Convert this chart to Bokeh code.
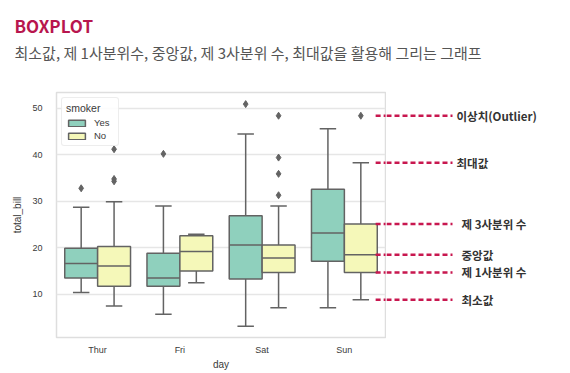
from bokeh.plotting import figure
from bokeh.layouts import column, row
from bokeh.models import FactorRange, Range1d, Label, Arrow, Legend, LegendItem, ColumnDataSource
from bokeh.transform import dodge
from bokeh.embed import file_html
from bokeh.resources import INLINE

days = ["Thur", "Fri", "Sat", "Sun"]
yes_lower = [10.4, 5.7, 3.1, 7.1]
yes_q1 = [13.5, 11.7, 13.3, 17.1]
yes_median = [16.6, 13.5, 20.6, 23.2]
yes_q3 = [19.9, 18.8, 26.9, 32.6]
yes_upper = [28.7, 29.0, 44.5, 45.6]
no_lower = [7.5, 12.5, 7.1, 8.8]
no_q1 = [11.7, 15.0, 14.7, 14.7]
no_median = [16.1, 19.2, 17.8, 18.5]
no_q3 = [20.3, 22.6, 20.6, 25.1]
no_upper = [29.9, 22.9, 29.0, 38.3]
yes_outlier_day = ["Thur", "Fri", "Sat"]
yes_outlier_value = [32.8, 40.2, 50.9]
no_outlier_day = ["Thur", "Thur", "Thur", "Sat", "Sat", "Sat", "Sat", "Sun"]
no_outlier_value = [41.2, 34.8, 34.3, 48.4, 39.4, 35.9, 31.3, 48.4]
y_ticks = [10, 20, 30, 40, 50]
annot_labels = ["이상치(Outlier)", "최대값", "제 3사분위 수", "중앙값", "제 1사분위 수", "최소값"]
annot_values = [no_outlier_value[-1], no_upper[3], no_q3[3], no_median[3], no_q1[3], no_lower[3]]

GREEN = "#8fd0bd"
YELLOW = "#f5f8b9"
EDGE = "#636363"
ACCENT = "#c8174f"
FONT = "Liberation Sans"
KFONT = "Noto Sans CJK KR"

# ---- heading strip ----
head = figure(width=570, height=70, x_range=Range1d(0, 570), y_range=Range1d(70, 0),
              output_backend="svg", toolbar_location=None, x_axis_type=None, y_axis_type=None,
              min_border=0)
head.outline_line_color = None
head.grid.grid_line_color = None
head.add_layout(Label(x=14, y=25, text="BOXPLOT", text_font=KFONT, text_font_size="17px",
                      text_font_style="bold", text_color="#b8164e", text_baseline="middle"))
head.add_layout(Label(x=14, y=52,
                      text="최소값, 제 1사분위수, 중앙값, 제 3사분위 수, 최대값을 활용해 그리는 그래프",
                      text_font=KFONT, text_font_size="15px", text_color="#555555",
                      text_baseline="middle"))

# ---- main box plot ----
p = figure(x_range=FactorRange(*days), y_range=Range1d(0.7, 53.4),
           width=386, height=303, output_backend="svg", toolbar_location=None,
           min_border_left=56, min_border_right=1, min_border_top=22, min_border_bottom=36)
p.background_fill_color = "white"
p.border_fill_color = "white"
p.outline_line_color = "#dedede"
p.outline_line_width = 1.5
p.xgrid.grid_line_color = None
p.ygrid.grid_line_color = "#e6e6e6"
p.ygrid.grid_line_width = 1.3
p.yaxis.ticker = y_ticks

for ax in (p.xaxis[0], p.yaxis[0]):
    ax.axis_line_color = None
    ax.major_tick_line_color = None
    ax.minor_tick_line_color = None
    ax.major_label_text_font = FONT
    ax.major_label_text_font_size = "9px"
    ax.major_label_text_color = "#3a3a3a"
    ax.axis_label_text_font = FONT
    ax.axis_label_text_font_size = "10px"
    ax.axis_label_text_font_style = "normal"
    ax.axis_label_text_color = "#3a3a3a"
p.xaxis.axis_label = "day"
p.xaxis.major_label_standoff = 1
p.xaxis.axis_label_standoff = 1
p.yaxis.axis_label = "total_bill"
p.yaxis.major_label_standoff = 8
p.yaxis.axis_label_standoff = 6

renderers = {}
groups = [
    ("Yes", -0.2, GREEN, yes_lower, yes_q1, yes_median, yes_q3, yes_upper, yes_outlier_day, yes_outlier_value),
    ("No", 0.2, YELLOW, no_lower, no_q1, no_median, no_q3, no_upper, no_outlier_day, no_outlier_value),
]
for name, off, color, lo, q1, med, q3, hi, od, ov in groups:
    src = ColumnDataSource(dict(day=days, lo=lo, q1=q1, med=med, q3=q3, hi=hi))
    xc = dodge("day", off, range=p.x_range)
    p.segment(x0=xc, y0="q3", x1=xc, y1="hi", source=src, line_color=EDGE, line_width=1.5)
    p.segment(x0=xc, y0="q1", x1=xc, y1="lo", source=src, line_color=EDGE, line_width=1.5)
    p.segment(x0=dodge("day", off - 0.1, range=p.x_range), y0="hi",
              x1=dodge("day", off + 0.1, range=p.x_range), y1="hi",
              source=src, line_color=EDGE, line_width=1.5)
    p.segment(x0=dodge("day", off - 0.1, range=p.x_range), y0="lo",
              x1=dodge("day", off + 0.1, range=p.x_range), y1="lo",
              source=src, line_color=EDGE, line_width=1.5)
    r = p.vbar(x=xc, width=0.4, top="q3", bottom="q1", source=src,
               fill_color=color, line_color=EDGE, line_width=1.5)
    renderers[name] = r
    p.segment(x0=dodge("day", off - 0.2, range=p.x_range), y0="med",
              x1=dodge("day", off + 0.2, range=p.x_range), y1="med",
              source=src, line_color=EDGE, line_width=1.5)
    osrc = ColumnDataSource(dict(day=od, v=ov))
    p.scatter(x=dodge("day", off, range=p.x_range), y="v", source=osrc, marker="diamond",
              size=7, fill_color=EDGE, line_color=EDGE)

legend = Legend(items=[LegendItem(label="Yes", renderers=[renderers["Yes"]]),
                       LegendItem(label="No", renderers=[renderers["No"]])],
                title="smoker", location="top_left")
legend.margin = 5
legend.padding = 4
legend.spacing = 2
legend.glyph_width = 21
legend.glyph_height = 8
legend.label_height = 10
legend.label_standoff = 7
legend.title_standoff = 3
legend.label_text_font = FONT
legend.label_text_font_size = "9.5px"
legend.label_text_color = "#3a3a3a"
legend.title_text_font = FONT
legend.title_text_font_size = "10.5px"
legend.title_text_font_style = "normal"
legend.title_text_color = "#3a3a3a"
legend.border_line_color = "#dcdcdc"
legend.border_radius = 3
legend.background_fill_alpha = 0.85
p.add_layout(legend)

# dashed callouts: part inside the plot frame
for v in annot_values:
    p.add_layout(Arrow(end=None, x_start=3.88, y_start=v, x_end=4.3, y_end=v,
                       line_color=ACCENT, line_width=2.5, line_dash="5 3"))

# ---- callout strip on the right (shares the y scale) ----
side = figure(width=184, height=303, x_range=Range1d(386, 570), y_range=p.y_range,
              output_backend="svg", toolbar_location=None, x_axis_type=None, y_axis_type=None,
              min_border_left=0, min_border_right=0, min_border_top=22, min_border_bottom=36)
side.outline_line_color = None
side.grid.grid_line_color = None
for i, (lab, v) in enumerate(zip(annot_labels, annot_values)):
    side.add_layout(Arrow(end=None, x_start=386, y_start=v, x_end=452, y_end=v,
                          line_color=ACCENT, line_width=2.5, line_dash="5 3"))
    side.add_layout(Label(x=456 if i < 2 else 461, y=v, text=lab, text_font=KFONT,
                          text_font_size="11.5px", text_font_style="bold", text_color="#333333",
                          text_baseline="middle"))

layout = column(head, row(p, side))
open("out.html", "w").write(file_html(layout, INLINE))
